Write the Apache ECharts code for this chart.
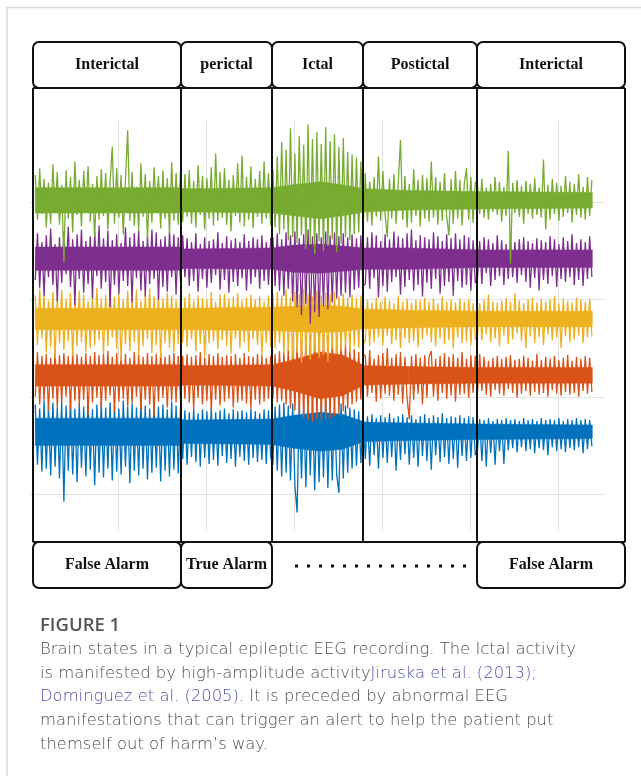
<!DOCTYPE html>
<html>
<head>
<meta charset="utf-8">
<title>Brain states in a typical epileptic EEG recording</title>
<script src="https://cdn.jsdelivr.net/npm/echarts@6/dist/echarts.min.js"></script>
<style>
  html, body { margin: 0; padding: 0; background: #fff; }
  #main { width: 641px; height: 776px; }
</style>
</head>
<body>
<div id="main"></div>
<script>
// brain states (header) and alarm labels (footer)
const stateLabels = ['Interictal', 'perictal', 'Ictal', 'Postictal', 'Interictal'];
const alarmLabels = ['False Alarm', 'True Alarm', '', '', 'False Alarm'];

// sampling of the traces (seconds)
const sampleStart = 0.06;
const sampleStep = 0.025;

// channel baselines (uV), top to bottom
const channelNames = ['green', 'purple', 'yellow', 'orange', 'blue'];
const channelColors = ['#77AC30', '#7E2F8E', '#EDB120', '#D95319', '#0072BD'];
const baselines = [302, 242, 180, 122, 64];

// EEG samples, deviation from baseline (uV)
// rows: interictal | perictal | ictal | postictal | interictal
const greenTrace = [
  26,-20,33,-14,22,-28,18,-24,37,-12, 29,-25,16,-64,31,-19,24,-33,40,-15, 21,-27,30,-11,35,-22,17,-38,25,-20,
  32,-16,28,-30,19,55,-24,33,-18,26, -35,22,72,-21,29,-26,14,-31,38,-17, 27,-40,20,-23,34,-13,25,-29,31,-19, 23,-34,39,-21,28,-25,30,
  -22,27,-17,31,-24,20,-28,36,-15,25, -30,23,-19,34,-26,48,-21,29,-18,33, -25,21,-32,26,-16,38,-23,46,-27,24, -20,35,-29,22,-17,30,-24,40,-19,28,-26,
  32,-28,45,-35,60,-30,52,-41,74,-38, 48,-44,66,-36,57,-50,78,-46,63,-55, 70,-42,58,-52,75,-47,61,-40,68,-53, 55,-45,64,-38,50,-41,47,-35,44,-33,40,-30,
  28,-22,19,-26,24,-17,45,-21,30,-15, -38,22,-19,27,-24,18,62,-20,25,-28, 17,-23,32,-16,21,-27,26,-19,23,-22, 40,-18,24,-25,19,-21,28,-17,-36,22, -24,30,-19,21,-26,17,33,-20,24,-23,19,
  16,-14,22,-18,13,-20,17,-12,24,-15, 19,-22,14,-16,51,-65,18,-13,21,-17, 15,-24,20,-14,17,-19,23,-15,13,-18, 42,-30,16,-20,22,-14,18,-21,15,-17, 25,-13,19,-23,17,-15,27,-18,14,-20,24,-16,21
];
const purpleTrace = [
  -22,26,-30,17,-38,24,-19,31,-27,15, -44,22,-25,28,-16,33,-29,20,-48,25, -21,30,-35,18,-26,23,-41,27,-18,34,
  -31,21,-24,29,-50,19,-27,25,-36,16, -23,32,-28,22,-45,26,-20,29,-33,18, -39,24,-26,30,-21,27,-42,20,-29,23, -34,28,-19,25,-37,22,-24,
  24,-19,21,-28,17,-23,26,-34,15,-21, 22,-30,18,-25,20,-17,27,-32,16,-22, 23,-35,19,-24,21,-28,17,-20,25,-33, 18,-26,22,-19,20,-31,24,-23,17,-27,21,
  22,-28,26,-33,20,-38,27,-31,24,-44, 28,-50,21,-58,25,-47,30,-67,23,-55, 26,-60,22,-49,28,-52,24,-45,27,-41, 23,-38,26,-35,22,-40,25,-32,21,-30,24,-28,
  -26,22,-31,27,-20,24,-40,18,-28,25, -34,20,-24,28,-19,23,-37,21,-29,26, -22,30,-33,19,-27,24,-39,22,-25,20, -31,27,-21,23,-36,18,-28,25,-24,21, -38,26,-23,20,-30,24,-27,22,-33,19,-25,
  -20,18,-26,22,-15,20,-28,16,-22,24, -18,19,-27,15,-21,23,-19,17,-25,20, -17,22,-24,18,-30,16,-20,21,-33,19, -22,17,-26,23,-18,20,-29,15,-21,22, -24,18,-19,25,-27,16,-22,20,-28,17,-21,23,-19
];
const yellowTrace = [
  24,-27,31,-20,26,-35,19,-29,28,-41, 22,-25,30,-32,21,-23,27,-38,20,-28, 29,-24,25,-34,18,-30,26,-27,32,-22,
  21,-36,25,-28,34,-19,23,-31,27,-43, 20,-26,29,-33,22,-24,30,-37,19,-28, 26,-21,31,-35,23,-27,28,-40,21,-25, 27,-30,24,-34,20,-26,25,
  -24,22,-29,27,-21,19,-33,24,-26,21, -39,20,-25,28,-23,18,-31,25,-22,26, -28,21,-36,23,-20,27,-30,19,-24,22, -34,25,-21,20,-27,23,-38,18,-25,24,-29,
  26,-30,28,-25,24,-36,30,-33,22,-41, 28,-35,25,-45,31,-38,26,-42,23,-34, 29,-40,24,-37,27,-44,25,-31,28,-36, 23,-33,26,-29,22,-35,25,-28,21,-30,24,-27,
  -22,20,-28,17,-24,22,-19,18,-27,23, -18,19,-26,16,-22,24,-30,18,-20,21, -25,17,-23,20,-29,19,-21,22,-17,18, -24,21,-28,16,-20,23,-26,18,-22,20, -30,17,-19,21,-25,18,-23,20,-27,16,-21,
  -18,16,-22,20,-16,25,-24,18,-20,17, -28,19,-17,22,-26,18,-21,27,-15,19, -23,16,-30,20,-18,22,-25,17,-19,21, -27,18,-16,20,-22,24,-19,16,-30,21, -18,19,-24,17,-21,22,-17,20,-25,18,-19,21,-18
];
const orangeTrace = [
  -22,24,-30,20,-26,22,-37,18,-24,26, -33,21,-28,23,-22,20,-35,24,-26,22, -31,19,-25,23,-40,20,-28,24,-23,21,
  -34,22,-26,25,-21,19,-38,23,-27,20, -24,22,-32,18,-29,24,-22,21,-36,19, -25,23,-30,20,-42,22,-27,24,-23,19, -33,21,-26,23,-28,20,-24,
  20,-24,22,-28,19,-35,21,-23,24,-30, 18,-26,22,-37,20,-25,23,-31,19,-27, 21,-24,20,-33,22,-28,18,-26,23,-29, 20,-34,19,-25,22,-30,21,-27,18,-24,20,
  -24,22,-28,25,-26,24,-30,28,-34,31, -36,34,-40,38,-44,40,-46,42,-48,43, -45,44,-47,42,-46,41,-44,40,-42,38, -40,36,-37,32,-34,29,-30,27,-27,24,-25,22,
  20,-22,26,-18,17,-27,21,-24,23,-19, 28,-21,18,-26,22,-20,24,-29,19,-23, -45,20,-25,22,-19,18,-30,21,-23,19, 25,-22,17,-26,20,-18,23,-24,19,-21, 22,-27,18,-20,24,-19,17,-23,21,-18,20,
  -18,22,-16,19,-20,15,-22,18,-15,20, -19,17,-21,19,-14,21,-18,16,-23,17, -19,20,-16,18,-21,15,-17,22,-20,16, -18,19,-22,17,-15,20,-19,16,-21,18, -17,21,-20,15,-18,19,-22,17,-16,20,-19,18,-17
];
const blueTrace = [
  28,-34,24,-41,32,-38,26,-45,30,-36, 25,-48,31,-72,27,-40,33,-44,24,-52, 29,-37,26,-46,34,-39,23,-55,28,-42,
  31,-47,25,-38,30,-50,27,-41,24,-44, 32,-36,26,-53,29,-40,25,-45,33,-38, 27,-49,24,-42,30,-37,26,-51,28,-40, 23,-46,31,-39,27,-43,25,
  -28,22,-34,20,-26,24,-31,19,-36,23, -27,21,-33,25,-29,20,-35,22,-25,24, -32,19,-28,23,-36,21,-26,22,-30,20, -34,24,-27,21,-31,19,-29,23,-33,22,-26,
  -34,26,-40,28,-46,30,-42,27,-50,29, -55,-83,31,-48,28,-57,32,-45,29,-60, 27,-52,30,-47,33,-58,28,-50,26,-44, -63,29,-48,27,-42,25,-38,23,-35,21,-32,20,
  -28,16,-35,18,-24,14,-38,17,-27,15, -32,19,-26,14,-40,16,-29,18,-23,15, -34,17,-27,13,-36,16,-25,18,-30,14, -39,17,-24,15,-31,19,-26,14,-33,16, -28,15,-37,17,-25,14,-30,16,-27,15,-24,
  -18,13,-30,12,-36,14,-22,11,-34,13, -20,12,-33,14,-19,12,-17,13,-21,11, -16,14,-20,12,-18,13,-22,11,-17,14, -19,12,-24,13,-16,12,-20,14,-18,11, -21,13,-17,12,-19,14,-16,12,-22,13,-18,12,-15
];

// dense core of each trace: half-width (uV) at these times (s)
const coreTimes = [0.06, 1.7, 1.75, 2.75, 3.0, 3.3, 3.55, 3.8, 4.3, 5.1, 6.39];
const greenCore  = [13, 13, 12, 13, 16, 19, 16, 12, 10, 9, 8];
const purpleCore = [12, 12, 10, 11, 14, 15, 13, 11, 11, 9, 9];
const yellowCore = [11, 11, 11, 12, 13, 14, 13, 10, 9, 8, 8];
const orangeCore = [11, 11, 10, 11, 16, 24, 21, 10, 9, 8, 8];
const blueCore   = [14, 14, 12, 13, 17, 20, 18, 10, 9, 8, 7];

const traces = [greenTrace, purpleTrace, yellowTrace, orangeTrace, blueTrace];
const cores = [greenCore, purpleCore, yellowCore, orangeCore, blueCore];

// layout (px)
const boxEdges = [33, 181, 272, 363, 477, 625];
const headTop = 42, headBottom = 88, footTop = 542, footBottom = 588;

const chart = echarts.init(document.getElementById('main'));

// band between consecutive core points, drawn as one quad per item
function bandRenderer(rows, color) {
  return function (params, api) {
    const j = params.dataIndex;
    if (j >= rows.length - 1) return null;
    const a = rows[j], b = rows[j + 1];
    return {
      type: 'polygon',
      shape: { points: [api.coord([a[0], a[1]]), api.coord([b[0], b[1]]), api.coord([b[0], b[2]]), api.coord([a[0], a[2]])] },
      style: { fill: color, stroke: color, lineWidth: 0.5 }
    };
  };
}

const series = [];
// blue drawn first, green last (on top)
for (let k = traces.length - 1; k >= 0; k--) {
  const base = baselines[k];
  const color = channelColors[k];
  const rows = coreTimes.map((t, j) => [t, base - cores[k][j], base + cores[k][j]]);
  series.push({
    name: channelNames[k] + '-core',
    type: 'custom', silent: true,
    encode: { x: 0, y: [1, 2] },
    renderItem: bandRenderer(rows, color),
    data: rows
  });
  series.push({
    name: channelNames[k],
    type: 'line', symbol: 'none', silent: true, clip: false,
    lineStyle: { color: color, width: 1.3 },
    data: traces[k].map((v, i) => [+(sampleStart + i * sampleStep).toFixed(3), base + v])
  });
}

const graphic = [];
// card frame
graphic.push({ type: 'polyline', z: 100, shape: { points: [[7, 776], [7, 7.5], [641, 7.5]] },
  style: { stroke: '#d9d9d9', lineWidth: 1.5, fill: null } });

const cellStroke = { fill: '#fff', stroke: '#111', lineWidth: 2 };
const serif = 'bold 16px "Liberation Serif", "Times New Roman", serif';
for (let c = 0; c < stateLabels.length; c++) {
  const x0 = boxEdges[c], x1 = boxEdges[c + 1];
  graphic.push({ type: 'rect', z: 100, shape: { x: x0, y: headTop, width: x1 - x0, height: headBottom - headTop, r: 6 }, style: cellStroke });
  graphic.push({ type: 'text', z: 101, x: (x0 + x1) / 2, y: (headTop + headBottom) / 2,
    style: { text: stateLabels[c], font: serif, fill: '#111', align: 'center', verticalAlign: 'middle' } });
  if (alarmLabels[c]) {
    graphic.push({ type: 'rect', z: 100, shape: { x: x0, y: footTop, width: x1 - x0, height: footBottom - footTop, r: 6 }, style: cellStroke });
    graphic.push({ type: 'text', z: 101, x: (x0 + x1) / 2, y: (footTop + footBottom) / 2,
      style: { text: alarmLabels[c], font: serif, fill: '#111', align: 'center', verticalAlign: 'middle' } });
  }
}
// panel dividers
boxEdges.forEach(function (x) {
  graphic.push({ type: 'line', z: 100, shape: { x1: x, y1: headBottom, x2: x, y2: footTop }, style: { stroke: '#111', lineWidth: 2 } });
});
graphic.push({ type: 'line', z: 100, shape: { x1: boxEdges[0], y1: headBottom, x2: boxEdges[5], y2: headBottom }, style: { stroke: '#111', lineWidth: 2 } });
graphic.push({ type: 'line', z: 100, shape: { x1: boxEdges[0], y1: footTop, x2: boxEdges[5], y2: footTop }, style: { stroke: '#111', lineWidth: 2 } });
// dotted gap between alarms
graphic.push({ type: 'line', z: 100, shape: { x1: 295, y1: 566, x2: 466, y2: 566 },
  style: { stroke: '#111', lineWidth: 3, lineDash: [3, 9] } });

// caption
const capFont = '200 16.4px "DejaVu Sans", "Open Sans", sans-serif';
const capRich = {
  a: { font: capFont, fill: '#4f4f4f' },
  b: { font: capFont, fill: '#4f53a3' }
};
graphic.push({ type: 'text', z: 100, x: 40, y: 626,
  style: { text: 'FIGURE 1', font: '600 18.5px "Open Sans", "Noto Sans", sans-serif', fill: '#555', verticalAlign: 'middle' } });
const captionLines = [
  '{a|Brain states in a typical epileptic EEG recording. The Ictal activity}',
  '{a|is manifested by high-amplitude activity}{b|Jiruska et al. (2013);}',
  '{b|Dominguez et al. (2005)}{a|. It is preceded by abnormal EEG}',
  '{a|manifestations that can trigger an alert to help the patient put}',
  '{a|themself out of harm\u2019s way.}'
];
captionLines.forEach(function (line, i) {
  graphic.push({ type: 'text', z: 100, x: 40, y: 650 + i * 23.6,
    style: { text: line, rich: capRich, verticalAlign: 'middle' } });
});

chart.setOption({
  animation: false,
  grid: [
    { left: 30, right: 36, top: 105, bottom: 282 },
    { left: 30, right: 36, top: 121, bottom: 246 }
  ],
  xAxis: [
    { type: 'value', gridIndex: 0, min: 0, max: 6.534, interval: 1,
      axisLine: { show: false }, axisTick: { show: false }, axisLabel: { show: false }, splitLine: { show: false } },
    { type: 'value', gridIndex: 1, min: 0, max: 6.534, interval: 1,
      axisLine: { show: false }, axisTick: { show: false }, axisLabel: { show: false },
      splitLine: { show: true, showMinLine: false, showMaxLine: false, lineStyle: { color: '#e2e2e2', width: 1 } } }
  ],
  yAxis: [
    { type: 'value', gridIndex: 0, min: 0, max: 400, interval: 100,
      axisLine: { show: false }, axisTick: { show: false }, axisLabel: { show: false },
      splitLine: { show: true, showMaxLine: false, lineStyle: { color: '#e2e2e2', width: 1 } } },
    { type: 'value', gridIndex: 1, show: false, min: 0, max: 1 }
  ],
  series: series,
  graphic: graphic
});
</script>
</body>
</html>
